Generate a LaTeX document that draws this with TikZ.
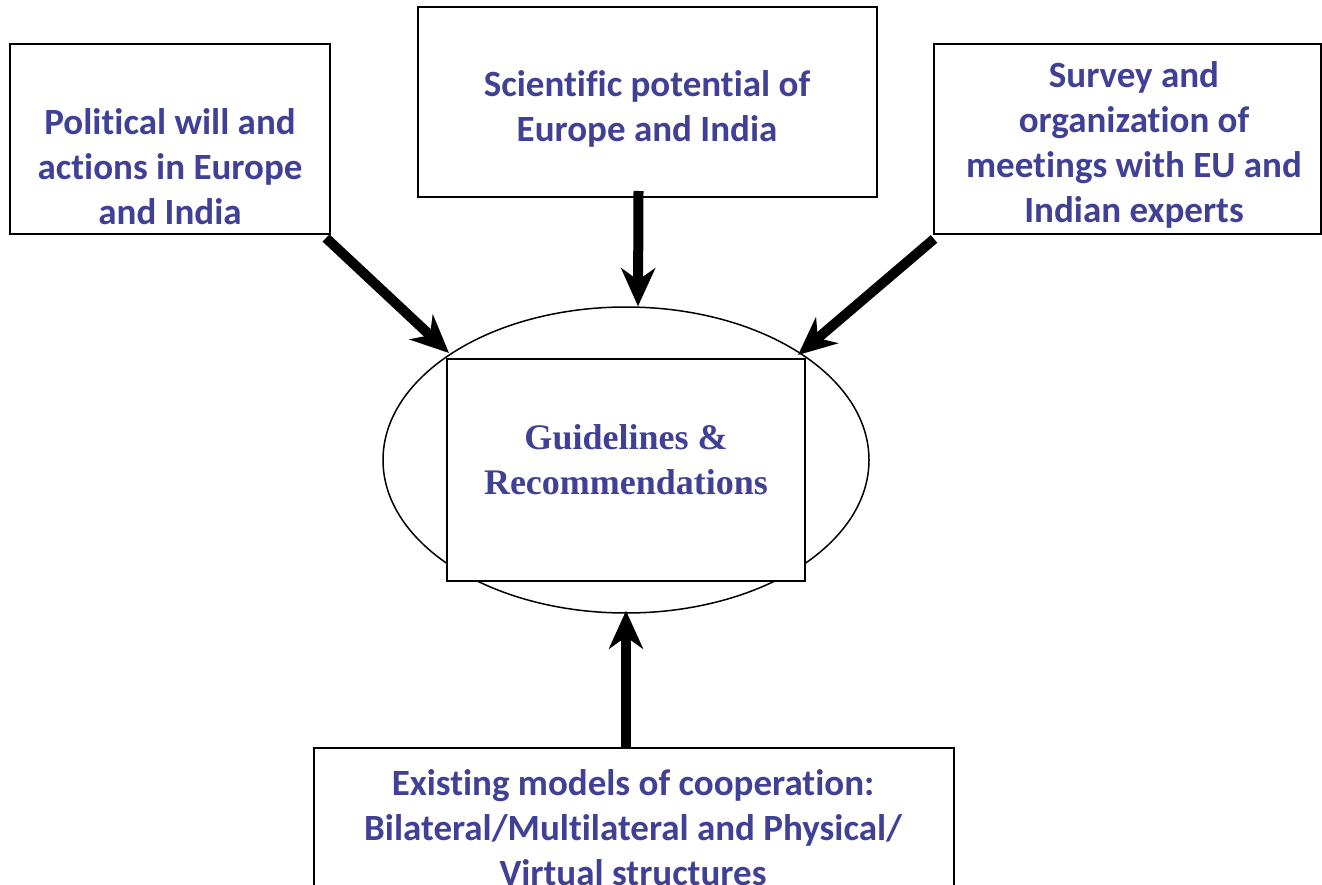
\documentclass[tikz,border=0pt]{standalone}
\usepackage{fontspec}
\setmainfont{Carlito}[Ligatures={NoCommon}]
\newfontfamily\serifbold{Liberation Serif}
\usetikzlibrary{arrows.meta,shapes.geometric}
\definecolor{txtblue}{RGB}{64,64,150}
\tikzset{
  x=1pt,y=-1pt,
  box/.style={draw=black,line width=2pt,fill=white,inner sep=0pt},
  lbl/.style={text=txtblue,font=\fontsize{37}{45}\selectfont\bfseries,align=center,inner sep=0pt},
  bigarrow/.style={line width=10pt,-{Stealth[length=38pt,width=34pt,inset=12pt]}},
}
\begin{document}
\begin{tikzpicture}
\useasboundingbox (0,0) rectangle (1322,885);
\clip (0,0) rectangle (1322,885);
% boxes
\node[box,minimum width=320pt,minimum height=190pt] (L) at (170,139) {};
\node[box,minimum width=459pt,minimum height=190pt] (T) at (647.5,102) {};
\node[box,minimum width=387pt,minimum height=190pt] (R) at (1127.5,139) {};
\node[box,minimum width=640pt,minimum height=200pt] (B) at (634,848) {};
% centre
\node[ellipse,draw=black,line width=1.5pt,minimum width=486pt,minimum height=306pt,inner sep=0pt] (E) at (626,460) {};
\node[box,minimum width=358pt,minimum height=222pt] (C) at (626,470) {};
% texts
\node[lbl] (Lt) at (170,167) {Political will and\\actions in Europe\\and India};
\node[lbl] (Tt) at (647,109) {Scientific potential of\\Europe and India};
\node[lbl] (Rt) at (1134,145) {Survey and\\organization of\\meetings with EU and\\Indian experts};
\node[lbl] (Bt) at (633,828) {Existing models of cooperation:\\Bilateral/Multilateral and Physical/\\Virtual structures};
\node[lbl,font=\fontsize{36}{45}\selectfont\serifbold\bfseries] (Ct) at (626,460) {Guidelines \&\\Recommendations};
% arrows
\draw[bigarrow] ([shift={(-5,3)}]L.south east) -- ([shift={(3,-5)}]C.north west);
\draw[bigarrow] ([shift={(-9,-7)}]T.south) -- ([shift={(12,0)}]E.north);
\draw[bigarrow] ([shift={(1,4)}]R.south west) -- ([shift={(-8,-3)}]C.north east);
\draw[bigarrow] ([shift={(-8,0)}]B.north) -- ([shift={(0,-3)}]E.south);
\end{tikzpicture}
\end{document}
